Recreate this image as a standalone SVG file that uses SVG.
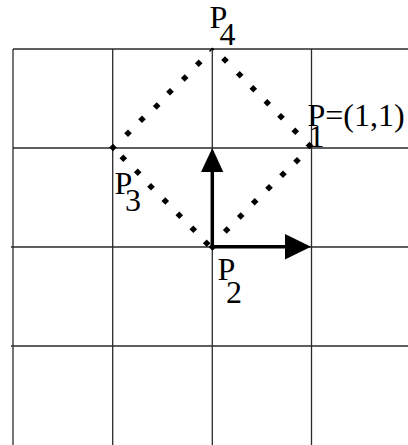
<svg xmlns="http://www.w3.org/2000/svg" width="408" height="445" viewBox="0 0 408 445">
<style>
.grid line{stroke:#2a2a2a;stroke-width:1.3;}
.shaft{stroke:#000;stroke-width:3.5;}
.head{fill:#000;}
text{font-family:"Liberation Serif","Times New Roman",serif;font-size:32px;fill:#000;}
</style>
<defs>
<path id="d" d="M0,-3.8L3.8,0L0,3.8L-3.8,0Z" fill="#000"/>
</defs>
<rect width="408" height="445" fill="#fff"/>
<g id="grid" class="grid">
<line x1="13" y1="49" x2="408" y2="49"/>
<line x1="13" y1="148" x2="408" y2="148"/>
<line x1="11" y1="247" x2="408" y2="247"/>
<line x1="11" y1="346" x2="408" y2="346"/>
<line x1="13" y1="49" x2="13" y2="445"/>
<line x1="112.7" y1="49" x2="112.7" y2="445"/>
<line x1="212.3" y1="49" x2="212.3" y2="445"/>
<line x1="311.5" y1="49" x2="311.5" y2="445"/>
</g>
<g id="connectors">
<g id="edge-P4-P1">
<use href="#d" x="225" y="60"/><use href="#d" x="239.7" y="74.7"/><use href="#d" x="253.3" y="88.7"/><use href="#d" x="267.3" y="102.7"/><use href="#d" x="281" y="116.7"/><use href="#d" x="295.3" y="131.3"/>
</g>
<g id="edge-P4-P3">
<use href="#d" x="198.7" y="63.3"/><use href="#d" x="184.7" y="78"/><use href="#d" x="170" y="91.7"/><use href="#d" x="156.7" y="106"/><use href="#d" x="142" y="119.3"/><use href="#d" x="128" y="133.3"/>
</g>
<g id="edge-P3-P2">
<use href="#d" x="123.3" y="158.3"/><use href="#d" x="137.7" y="172.3"/><use href="#d" x="151" y="186.7"/><use href="#d" x="165.3" y="201"/><use href="#d" x="179.3" y="215.3"/><use href="#d" x="193.3" y="229.3"/><use href="#d" x="206.7" y="243.3"/>
</g>
<g id="edge-P2-P1">
<use href="#d" x="226.7" y="230"/><use href="#d" x="240.7" y="216"/><use href="#d" x="254.7" y="201.7"/><use href="#d" x="269" y="187.7"/><use href="#d" x="283" y="174.3"/><use href="#d" x="297" y="160.7"/>
</g>
<g id="arrow-up">
<line class="shaft" x1="212.3" y1="248" x2="212.3" y2="168"/>
<polygon class="head" points="212.3,148 201,172 223.3,172"/>
</g>
<g id="arrow-right">
<line class="shaft" x1="210.5" y1="246.8" x2="290" y2="246.8"/>
<polygon class="head" points="311,246.8 285,234 285,259.6"/>
</g>
</g>
<g id="P1">
<use href="#d" x="309.5" y="145.5"/>
<text x="307.5" y="126">P=(1,1)</text>
<text x="308.5" y="146.5">1</text>
</g>
<g id="P2">
<use href="#d" x="212.5" y="247"/>
<text x="217.5" y="280">P</text>
<text x="226" y="303">2</text>
</g>
<g id="P3">
<use href="#d" x="113" y="147.5"/>
<text x="114.5" y="194">P</text>
<text x="125" y="210.5">3</text>
</g>
<g id="P4">
<path d="M209.5,51.5L212.3,48.5L214,50" fill="none" stroke="#000" stroke-width="1.5"/>
<text x="209.5" y="28">P</text>
<text x="219.6" y="44.5">4</text>
</g>
</svg>
